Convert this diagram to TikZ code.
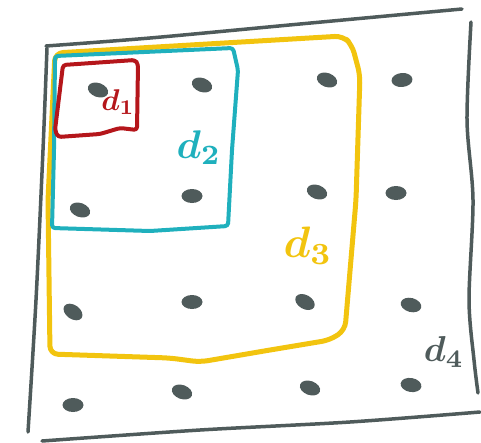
\documentclass[tikz,border=0pt]{standalone}
\usepackage{amsmath}
\usetikzlibrary{arrows}
\definecolor{slate}{HTML}{4F5B5B}
\definecolor{gold}{HTML}{F2C40F}
\definecolor{teal}{HTML}{1FB0BD}
\definecolor{brick}{HTML}{B5161B}

\begin{document}
\begin{tikzpicture}[x=1pt,y=-1pt,line cap=round,line join=round,
  frame/.style={slate,line width=3.5pt},
  dot/.style={fill=slate},
  lbl/.style={inner sep=0pt,font=\boldmath}]
\useasboundingbox (0,0) rectangle (481,442);
% outer frame d4
\draw [frame] plot[smooth] coordinates {(46,46) (150,38) (300,24) (462,9)};
\draw [frame] plot[smooth] coordinates {(47,48) (43,150) (36,300) (28,432)};
\draw [frame] plot[smooth] coordinates {(42,441) (200,430) (350,422) (480,412)};
\draw [frame] plot[smooth] coordinates {(471,22) (467,120) (473,200) (469,300) (474,360) (478,393)};
% grid of points
\foreach \px/\py/\ang in {98/90/-20,202/85/-20,327/80/-20,402/80/5,
  80/210/-20,192/196/0,317/192/-20,396/193/0,
  73/312/-35,192/302/0,305/302/-30,411/305/-15,
  73/405/0,182/392/-20,310/388/-20,411/385/-10}
  \fill [dot,rotate around={\ang:(\px,\py)}] (\px,\py) ellipse (10.5pt and 7pt);
% d3
\draw [gold,line width=5pt,rounded corners=8pt] (55,53) -- (343,36) -- (352,45) -- (360,75) -- (356,200) -- (345,330) -- (330,340) -- (270,350) -- (200,362) -- (170,358) -- (50,354) -- (48,200) -- cycle;
% d2
\draw [teal,line width=4pt,rounded corners=3pt] (55,56) -- (233,48) -- (238,70) -- (232,150) -- (228,226) -- (150,231) -- (52,228) -- (54,150) -- cycle;
% d1
\draw [brick,line width=4pt,rounded corners=3pt] (63,65) -- (135,60) -- (138,64) -- (137,130) -- (120,128) -- (100,134) -- (58,137) -- (55,130) -- cycle;
% labels
\node [lbl,brick,scale=3] (lblA) at (118,102) {$d_1$};
\node [lbl,teal,scale=4] (lblB) at (199,148) {$d_2$};
\node [lbl,gold,scale=4.4] (lblC) at (308,246) {$d_3$};
\node [lbl,slate,scale=3.6] (lblD) at (444,352) {$d_4$};
\end{tikzpicture}
\end{document}
